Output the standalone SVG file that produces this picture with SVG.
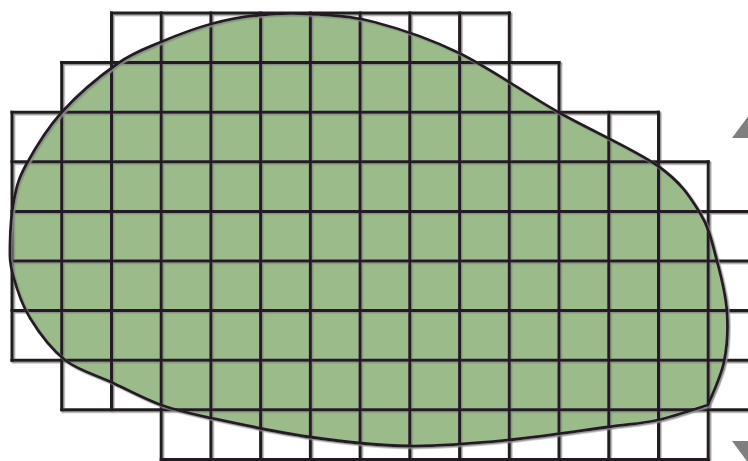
<svg xmlns="http://www.w3.org/2000/svg" width="748" height="461" viewBox="0 0 748 461">
<defs>
<style>
.blob{fill:#9cbb8b;stroke:none}
.outline{fill:none;stroke:#231f20;stroke-width:2.8;stroke-linejoin:round}
.grid{fill:none;stroke:#231f20;stroke-width:3;stroke-linecap:square}
.arrow{fill:#7f7f7f}
</style>
<path id="blobshape" d="M708,405 C699.7,407.5 674.7,416.3 658,420 C641.3,423.7 632.8,423.7 608,427 C583.2,430.3 542.2,436.8 509,440 C475.8,443.2 442.2,446.5 409,446 C375.8,445.5 343,441.7 310,437 C277,432.3 235.8,423.3 211,418 C186.2,412.7 177.7,411 161,405 C144.3,399 127,389.5 111,382 C95,374.5 78.5,370.7 65,360 C51.5,349.3 38.7,332.2 30,318 C21.3,303.8 16.3,287.2 13,275 C9.7,262.8 9.8,257.5 10,245 C10.2,232.5 11.3,213.3 14,200 C16.7,186.7 18,179.7 26,165 C34,150.3 46.8,128.8 62,112 C77.2,95.2 100.5,75.7 117,64 C133.5,52.3 145.3,48.7 161,42 C176.7,35.3 194.5,28.5 211,24 C227.5,19.5 243.5,16.7 260,15 C276.5,13.3 291,12.8 310,14 C329,15.2 349.2,15.5 374,22 C398.8,28.5 428.3,38 459,53 C489.7,68 524.8,93.2 558,112 C591.2,130.8 634.3,149.2 658,166 C681.7,182.8 690.2,197.2 700,213 C709.8,228.8 712.5,244.5 717,261 C721.5,277.5 725.8,295.2 727,312 C728.2,328.8 727.2,346.5 724,362 C720.8,377.5 710.7,397.8 708,405 Z"/>
<filter id="sh" x="-5%" y="-5%" width="110%" height="110%">
<feDropShadow dx="1.5" dy="1.5" stdDeviation="0.6" flood-color="#8a8a8a" flood-opacity="0.9"/>
</filter>
</defs>
<rect width="748" height="461" fill="#ffffff"/>
<g id="shape">
<use href="#blobshape" class="blob"/>
</g>
<g id="grid" class="grid" filter="url(#sh)">
<path d="M111.5,13 H509.3 M61.7,62.6 H559 M12,112.2 H658.5 M12,161.8 H708.2 M12,211.4 H760 M12,261 H760 M12,310.6 H760 M12,360.2 H760 M61.7,409.8 H760 M161.2,459.4 H708.2"/>
<path d="M12,112.2 V360.2 M61.7,62.6 V409.8 M111.5,13 V409.8 M161.2,13 V459.4 M210.9,13 V459.4 M260.6,13 V459.4 M310.4,13 V459.4 M360.1,13 V459.4 M409.8,13 V459.4 M459.6,13 V459.4 M509.3,13 V459.4 M559,62.6 V459.4 M608.8,112.2 V459.4 M658.5,112.2 V459.4 M708.2,161.8 V459.4"/>
</g>
<g id="outline" filter="url(#sh)">
<use href="#blobshape" class="outline"/>
</g>
<g id="arrows">
<polygon class="arrow" points="732,138 752,111 772,138"/>
<polygon class="arrow" points="732,441 772,441 752,468"/>
</g>
</svg>
